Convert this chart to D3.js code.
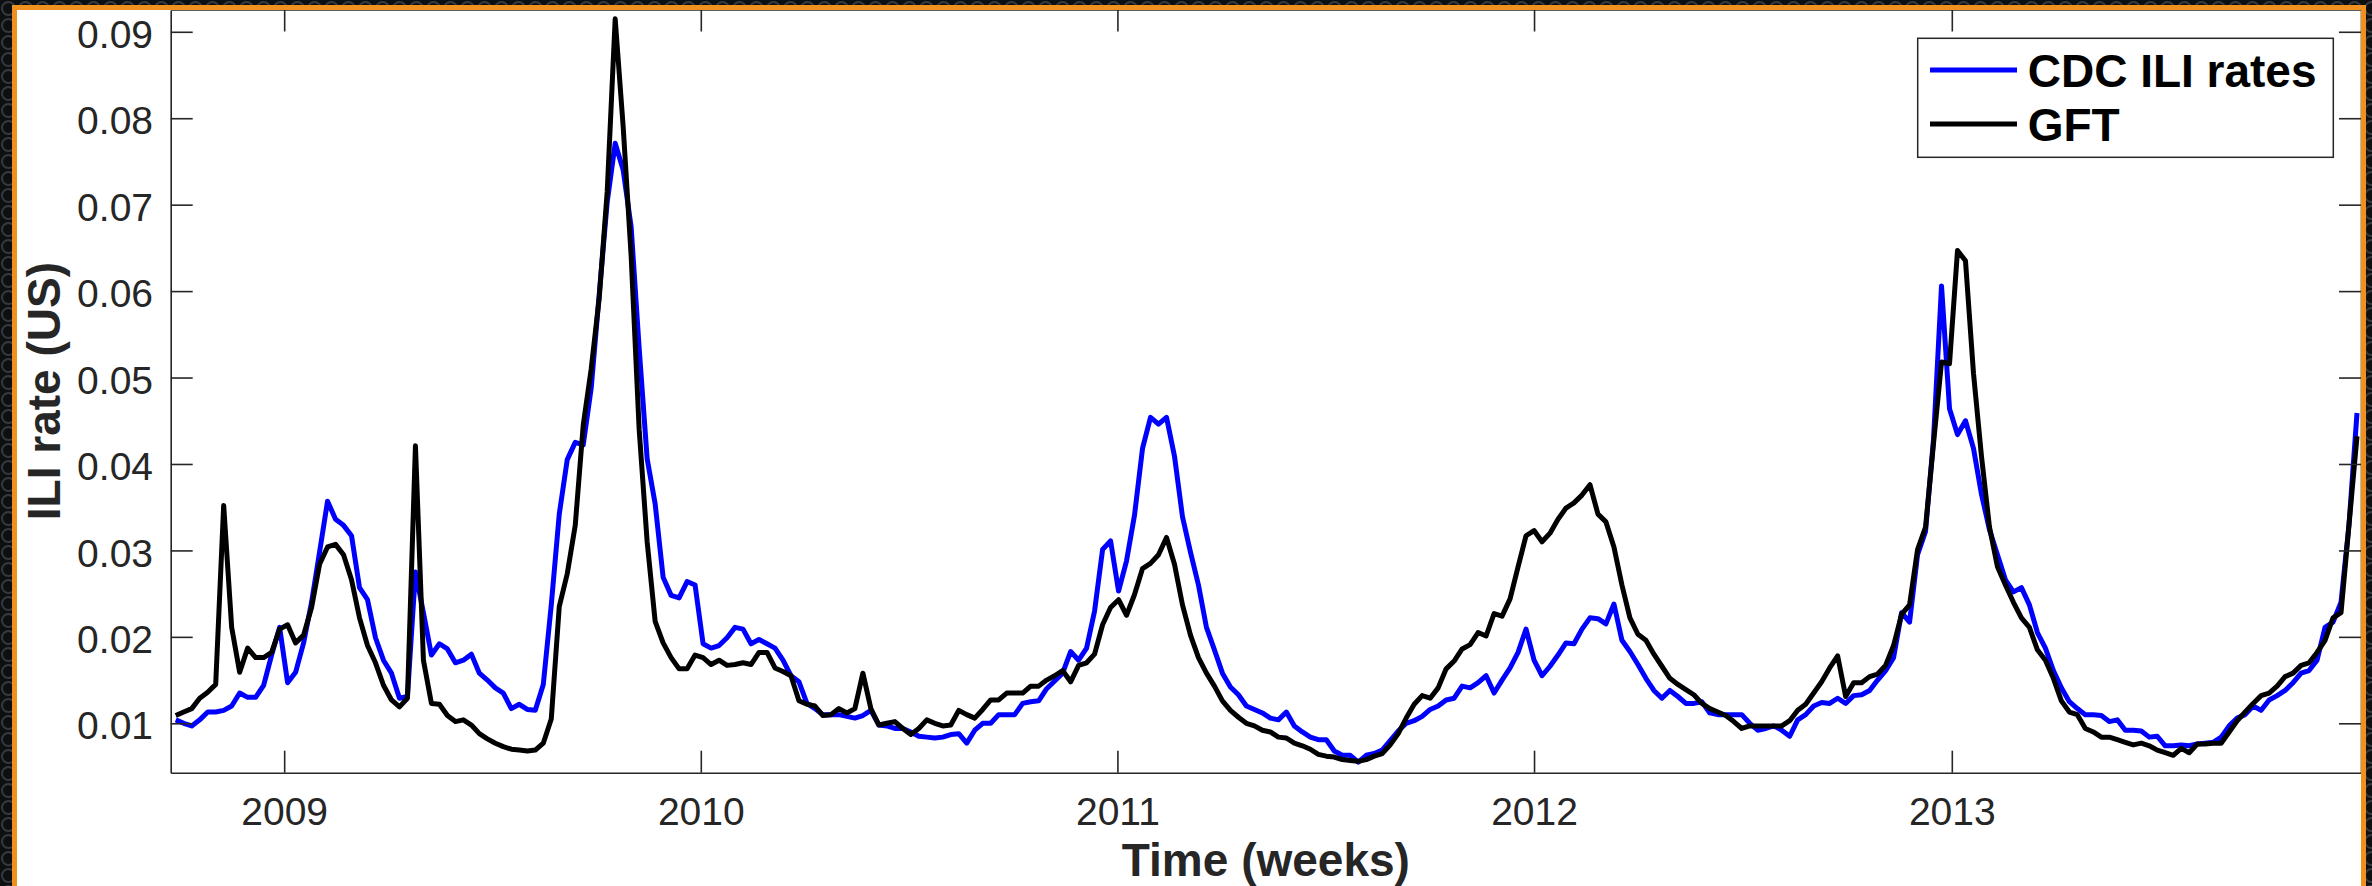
<!DOCTYPE html>
<html><head><meta charset="utf-8">
<script src="https://cdn.jsdelivr.net/npm/d3@7"></script>
<style>html,body{margin:0;padding:0;background:#121416;overflow:hidden}</style>
</head><body>
<script>
// ---- data ----
const startWeek = "2008-09-28"; // first weekly observation (Sunday)
const cdc = [
0.0104,0.0100,0.0097,0.0104,0.0113,0.0113,0.0115,0.0120,0.0135,0.0130,
0.0130,0.0144,0.0179,0.0211,0.0147,0.0159,0.0193,0.0240,0.0298,0.0357,
0.0336,0.0329,0.0317,0.0257,0.0243,0.0199,0.0173,0.0158,0.0129,0.0131,
0.0275,0.0228,0.0179,0.0192,0.0186,0.0170,0.0173,0.0180,0.0158,0.0150,
0.0141,0.0135,0.0117,0.0122,0.0116,0.0115,0.0145,0.0237,0.0342,0.0405,
0.0425,0.0422,0.0488,0.0596,0.0703,0.0771,0.0740,0.0674,0.0534,0.0406,
0.0354,0.0269,0.0248,0.0245,0.0264,0.0260,0.0192,0.0187,0.0190,0.0199,
0.0211,0.0209,0.0192,0.0197,0.0192,0.0187,0.0173,0.0155,0.0148,0.0123,
0.0117,0.0110,0.0110,0.0110,0.0108,0.0106,0.0109,0.0115,0.0098,0.0097,
0.0094,0.0094,0.0090,0.0085,0.0084,0.0083,0.0084,0.0087,0.0088,0.0077,
0.0092,0.0100,0.0100,0.0110,0.0110,0.0110,0.0123,0.0125,0.0126,0.0140,
0.0149,0.0158,0.0183,0.0173,0.0187,0.0230,0.0301,0.0311,0.0253,0.0288,
0.0341,0.0418,0.0454,0.0446,0.0454,0.0409,0.0339,0.0298,0.0260,0.0211,
0.0185,0.0158,0.0142,0.0133,0.0120,0.0116,0.0112,0.0106,0.0104,0.0113,
0.0097,0.0090,0.0084,0.0081,0.0081,0.0068,0.0063,0.0063,0.0055,0.0063,
0.0065,0.0069,0.0080,0.0091,0.0100,0.0103,0.0108,0.0116,0.0120,0.0127,
0.0129,0.0143,0.0141,0.0147,0.0155,0.0135,0.0150,0.0164,0.0182,0.0209,
0.0173,0.0155,0.0166,0.0179,0.0193,0.0192,0.0209,0.0222,0.0221,0.0215,
0.0238,0.0196,0.0183,0.0168,0.0152,0.0138,0.0129,0.0138,0.0131,0.0123,
0.0123,0.0125,0.0112,0.0110,0.0110,0.0110,0.0110,0.0100,0.0092,0.0094,
0.0097,0.0092,0.0085,0.0104,0.0110,0.0120,0.0124,0.0123,0.0129,0.0123,
0.0132,0.0133,0.0138,0.0150,0.0161,0.0176,0.0228,0.0217,0.0295,0.0322,
0.0429,0.0606,0.0464,0.0434,0.0450,0.0418,0.0365,0.0324,0.0295,0.0266,
0.0252,0.0257,0.0237,0.0205,0.0187,0.0161,0.0141,0.0125,0.0117,0.0110,
0.0110,0.0109,0.0102,0.0104,0.0092,0.0092,0.0091,0.0084,0.0085,0.0074,
0.0074,0.0075,0.0074,0.0076,0.0077,0.0078,0.0084,0.0097,0.0106,0.0110,
0.0120,0.0115,0.0127,0.0132,0.0138,0.0147,0.0158,0.0161,0.0173,0.0211,
0.0217,0.0240,0.0330,0.0459
];
const gft = [
0.0109,0.0113,0.0117,0.0129,0.0136,0.0145,0.0352,0.0211,0.0159,0.0187,
0.0176,0.0176,0.0182,0.0209,0.0214,0.0193,0.0202,0.0234,0.0284,0.0304,
0.0307,0.0295,0.0266,0.0222,0.0190,0.0170,0.0144,0.0127,0.0119,0.0129,
0.0421,0.0173,0.0123,0.0122,0.0109,0.0102,0.0104,0.0098,0.0088,0.0082,
0.0077,0.0073,0.0070,0.0069,0.0068,0.0069,0.0077,0.0105,0.0235,0.0273,
0.0329,0.0445,0.0510,0.0592,0.0715,0.0915,0.0790,0.0640,0.0440,0.0310,
0.0218,0.0193,0.0176,0.0163,0.0163,0.0179,0.0176,0.0168,0.0173,0.0167,
0.0168,0.0170,0.0168,0.0182,0.0182,0.0164,0.0160,0.0155,0.0126,0.0122,
0.0120,0.0109,0.0110,0.0117,0.0112,0.0117,0.0158,0.0117,0.0098,0.0100,
0.0102,0.0094,0.0087,0.0094,0.0104,0.0100,0.0097,0.0098,0.0115,0.0110,
0.0106,0.0116,0.0127,0.0127,0.0135,0.0135,0.0135,0.0143,0.0143,0.0150,
0.0155,0.0161,0.0148,0.0167,0.0170,0.0180,0.0214,0.0234,0.0243,0.0225,
0.0249,0.0279,0.0285,0.0295,0.0315,0.0284,0.0237,0.0202,0.0176,0.0158,
0.0143,0.0126,0.0115,0.0107,0.0100,0.0097,0.0092,0.0090,0.0084,0.0083,
0.0077,0.0074,0.0070,0.0064,0.0062,0.0061,0.0058,0.0057,0.0056,0.0058,
0.0062,0.0065,0.0075,0.0088,0.0106,0.0122,0.0132,0.0129,0.0141,0.0163,
0.0172,0.0186,0.0191,0.0205,0.0201,0.0227,0.0224,0.0244,0.0281,0.0317,
0.0323,0.0310,0.0320,0.0336,0.0349,0.0355,0.0364,0.0376,0.0342,0.0333,
0.0304,0.0260,0.0222,0.0203,0.0196,0.0180,0.0166,0.0152,0.0145,0.0139,
0.0133,0.0123,0.0117,0.0113,0.0109,0.0102,0.0094,0.0097,0.0097,0.0097,
0.0097,0.0097,0.0103,0.0115,0.0122,0.0135,0.0148,0.0164,0.0178,0.0131,
0.0147,0.0147,0.0154,0.0157,0.0167,0.0190,0.0226,0.0237,0.0301,0.0327,
0.0424,0.0518,0.0516,0.0647,0.0635,0.0505,0.0409,0.0327,0.0281,0.0260,
0.0240,0.0222,0.0211,0.0185,0.0173,0.0152,0.0126,0.0113,0.0110,0.0094,
0.0090,0.0084,0.0084,0.0081,0.0078,0.0075,0.0077,0.0074,0.0069,0.0066,
0.0063,0.0071,0.0066,0.0076,0.0076,0.0077,0.0077,0.0090,0.0103,0.0113,
0.0123,0.0132,0.0135,0.0143,0.0154,0.0158,0.0167,0.0170,0.0182,0.0196,
0.0222,0.0228,0.0330,0.0432
];
const yearTicks = [2009, 2010, 2011, 2012, 2013];
const yTickValues = [0.01, 0.02, 0.03, 0.04, 0.05, 0.06, 0.07, 0.08, 0.09];
const seriesNames = ["CDC ILI rates", "GFT"];
const seriesColors = ["#0000ff", "#000000"];
const xTitle = "Time (weeks)";
const yTitle = "ILI rate (US)";

// ---- layout ----
const W = 2372, H = 886;
const L = 170.7, R = 2361, T = 9.5, B = 772.7;
const FONT = "'Liberation Sans', Arial, Helvetica, sans-serif";
const INK = "#262626";

const svg = d3.select("body").append("svg").attr("width", W).attr("height", H)
  .style("display", "block");

const defs = svg.append("defs");
const pat = defs.append("pattern").attr("id", "bgpat").attr("patternUnits", "userSpaceOnUse")
  .attr("width", 17).attr("height", 17);
pat.append("rect").attr("width", 17).attr("height", 17).attr("fill", "#0e0f11");
pat.append("circle").attr("cx", 8.5).attr("cy", 8.5).attr("r", 6.5)
  .attr("fill", "none").attr("stroke", "#353a40").attr("stroke-width", 2);

svg.append("rect").attr("width", W).attr("height", H).attr("fill", "url(#bgpat)");
svg.append("rect").attr("x", 17).attr("y", 10).attr("width", 2344).attr("height", H).attr("fill", "#fff");

const parse = d3.utcParse("%Y-%m-%d");
const t0 = parse(startWeek);
const dates = cdc.map((_, i) => d3.utcDay.offset(t0, 7 * i));

const x = d3.scaleUtc()
  .domain([new Date(Date.UTC(2008, 8, 23, 14)), new Date(Date.UTC(2013, 11, 25, 12))])
  .range([L, R]);
const y = d3.scaleLinear().domain([0.004285, 0.09252]).range([B, T + 0.5]);

svg.append("clipPath").attr("id", "plotclip").append("rect")
  .attr("x", L).attr("y", T).attr("width", R - L).attr("height", B - T);

const line = d3.line().x((d, i) => x(dates[i])).y(d => y(d));
const g = svg.append("g").attr("clip-path", "url(#plotclip)");
[cdc, gft].forEach((s, k) => {
  g.append("path").datum(s).attr("d", line).attr("fill", "none")
    .attr("stroke", seriesColors[k]).attr("stroke-width", 5)
    .attr("stroke-linejoin", "round").attr("stroke-linecap", "butt");
});

// ---- axes ----
const yearDates = yearTicks.map(yr => new Date(Date.UTC(yr, 0, 1)));
function styleAxis(sel) {
  sel.selectAll("path.domain").attr("stroke", INK).attr("stroke-width", 1.6);
  sel.selectAll(".tick line").attr("stroke", INK).attr("stroke-width", 1.6);
  sel.selectAll("text").attr("fill", INK).style("font-family", FONT).style("font-size", "39px");
}
const xb = svg.append("g").attr("transform", `translate(0,${B})`)
  .call(d3.axisBottom(x).tickValues(yearDates).tickFormat(d3.utcFormat("%Y"))
    .tickSizeInner(-22).tickSizeOuter(0).tickPadding(24.6));
styleAxis(xb);
const xt = svg.append("g").attr("transform", `translate(0,${T})`)
  .call(d3.axisTop(x).tickValues(yearDates).tickFormat("").tickSizeInner(-22).tickSizeOuter(0));
styleAxis(xt);
const yl = svg.append("g").attr("transform", `translate(${L},0)`)
  .call(d3.axisLeft(y).tickValues(yTickValues).tickFormat(d3.format(".2f"))
    .tickSizeInner(-22).tickSizeOuter(0).tickPadding(17.7));
styleAxis(yl);
yl.selectAll("text").attr("dy", "0.40em");
const yr = svg.append("g").attr("transform", `translate(${R},0)`)
  .call(d3.axisRight(y).tickValues(yTickValues).tickFormat("").tickSizeInner(-22).tickSizeOuter(0));
styleAxis(yr);

// ---- titles ----
svg.append("text").attr("x", (L + R) / 2).attr("y", 876).attr("text-anchor", "middle")
  .style("font-family", FONT).style("font-size", "46px").style("font-weight", "bold")
  .attr("fill", INK).text(xTitle);
svg.append("text").attr("transform", `translate(60,${(T + B) / 2}) rotate(-90)`)
  .attr("text-anchor", "middle")
  .style("font-family", FONT).style("font-size", "46px").style("font-weight", "bold")
  .attr("fill", INK).text(yTitle);

// ---- legend ----
const lg = svg.append("g");
lg.append("rect").attr("x", 1917.7).attr("y", 38.3).attr("width", 415.6).attr("height", 119)
  .attr("fill", "#fff").attr("stroke", INK).attr("stroke-width", 1.5);
const legendRows = [87, 141];
seriesNames.forEach((nm, k) => {
  const cy = legendRows[k] - 17;
  lg.append("line").attr("x1", 1930).attr("x2", 2017).attr("y1", cy).attr("y2", cy)
    .attr("stroke", seriesColors[k]).attr("stroke-width", 5);
  lg.append("text").attr("x", 2027.7).attr("y", legendRows[k])
    .style("font-family", FONT).style("font-size", "46px").style("font-weight", "bold")
    .attr("fill", "#000").text(nm);
});

// ---- orange frame ----
svg.append("rect").attr("x", 14.5).attr("y", 7.5).attr("width", 2349).attr("height", 920)
  .attr("fill", "none").attr("stroke", "#f0901e").attr("stroke-width", 5);
</script>
</body></html>
